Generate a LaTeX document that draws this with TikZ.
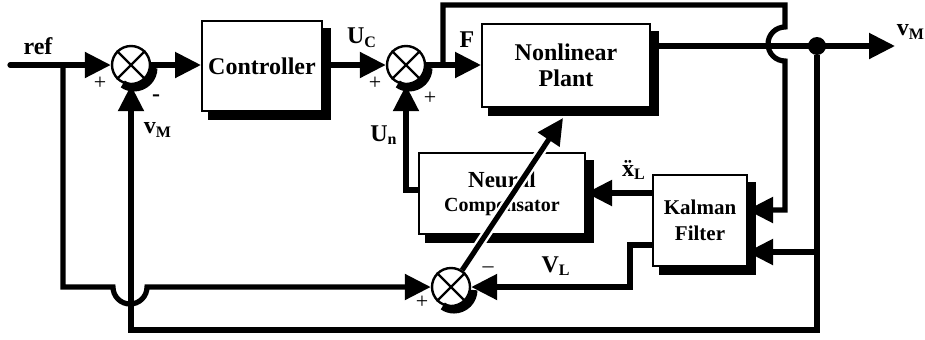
\documentclass[tikz,border=0pt]{standalone}
\usepackage{fontspec}
\setmainfont{Liberation Serif}
\usepackage{tikz}
\usetikzlibrary{arrows.meta}

\begin{document}
\begin{tikzpicture}[x=0.5pt,y=-0.5pt,>={Triangle[length=13pt,width=12.5pt]},
 every node/.style={font=\bfseries\fontsize{12}{13}\selectfont,inner sep=0pt},
 sig/.style={line width=2.6pt},
 shd/.style={line width=4pt,line cap=butt},
 blk/.style={draw,line width=1pt,fill=white,align=center},
 sumpt/.style={circle,draw,line width=1.2pt,fill=white,minimum size=19pt},
 sgn/.style={font=\fontsize{11}{12}\selectfont}]
\useasboundingbox (0,0) rectangle (925,339);
% blocks
\node[blk,minimum width=60pt,minimum height=45pt] (ctrl) at (262,66) {Controller};
\node[blk,minimum width=84pt,minimum height=41.5pt] (plant) at (566,65.5) {Nonlinear\\Plant};
\node[blk,minimum width=83pt,minimum height=40.5pt] (nc) at (502,193.5)
  {\fontsize{11.5}{13}\selectfont Neural\\[-1pt]\fontsize{10}{12}\selectfont Compensator};
\node[blk,minimum width=47pt,minimum height=45.5pt,font=\bfseries\fontsize{10.5}{13}\selectfont]
  (kf) at (700,220.5) {Kalman\\Filter};
% shadows along the lower and right sides
\draw[shd] (208,115.5) -| (326.5,28);
\draw[shd] (488,111.5) -| (654.5,31);
\draw[shd] (425,238.5) -| (589.5,160);
\draw[shd] (659,270.5) -| (751.5,182);
% summing points
\node[sumpt] (s1) at (131,65) {};
\node[sumpt] (s2) at (406,65) {};
\node[sumpt] (s3) at (451,287) {};
\foreach \x/\y in {131/65,406/65,451/287}
  \draw[shd] (\x+22.5,\y+3) arc[start angle=0,end angle=125,radius=19.5];
\foreach \s in {s1,s2,s3}
  \draw[line width=1.1pt] (\s.north west)--(\s.south east) (\s.north east)--(\s.south west);
% points on the lines
\coordinate (refin) at (10,65);
\coordinate (jref) at (63,65);
\coordinate (jmpL) at (113,287);
\coordinate (fb) at (443,65);
\coordinate (ftop) at (785,5);
\coordinate (kin1) at (747,210);
\coordinate (kin2) at (747,252);
\node[circle,fill=black,minimum size=9pt] (tap) at (817,46) {};
\coordinate (out) at (895,46);
\coordinate (bot) at (817,330);
\coordinate (vlout) at (653,245);
\coordinate (vlbend) at (630,287);
\coordinate (adapt) at (563,118);
% signals
\draw[sig,->,line cap=round] (refin) -- (s1);
\draw[sig,->] (jref) |- (jmpL) arc[start angle=180,end angle=0,radius=17] -- (s3);
\draw[sig,->] (s1) -- (s1 -| ctrl.west);
\draw[sig,->] (ctrl.east |- s2) -- (s2);
\draw[sig,->] (s2) -- (s2 -| plant.west);
\draw[sig,->] (fb) |- (ftop) -- ++(0,22) arc[start angle=270,end angle=90,radius=17] |- (kin1);
\draw[sig,->] (plant.east |- tap) -- (out);
\draw[sig,->] (tap) |- (kin2);
\draw[sig,->] (tap) -- (bot) -| (s1.south);
\draw[sig,->] (kf.west |- 0,193) -- (nc.east |- 0,193);
\draw[sig,->] (nc.west |- 0,190) -| (s2.south);
\draw[sig,->] (vlout) -| (vlbend) -- (s3);
\draw[white,line width=5pt,shorten <=3pt,shorten >=14pt] (s3) -- (adapt);
\draw[sig,->] (s3) -- (adapt);
% labels
\node (lref) at (38,46) {ref};
\node (lvm1) at (158,130) {v\textsubscript{M}};
\node (luc) at (362,38) {U\textsubscript{C}};
\node (lf) at (467,40) {F};
\node (lun) at (384,135) {U\textsubscript{n}};
\node (lxdd) at (634,170) {\"x\textsubscript{L}};
\node (lvl) at (556,266) {V\textsubscript{L}};
\node (lvm2) at (911,32) {v\textsubscript{M}};
\node[sgn] (p1) at (100,83) {+};
\node[sgn,font=\bfseries\fontsize{12}{12}\selectfont] (m1) at (156,98) {-};
\node[sgn] (p2) at (375,83) {+};
\node[sgn] (p3) at (430,98) {+};
\node[sgn] (p4) at (422,302) {+};
\node[sgn] (m2) at (488,270) {\textendash};
\end{tikzpicture}
\end{document}
